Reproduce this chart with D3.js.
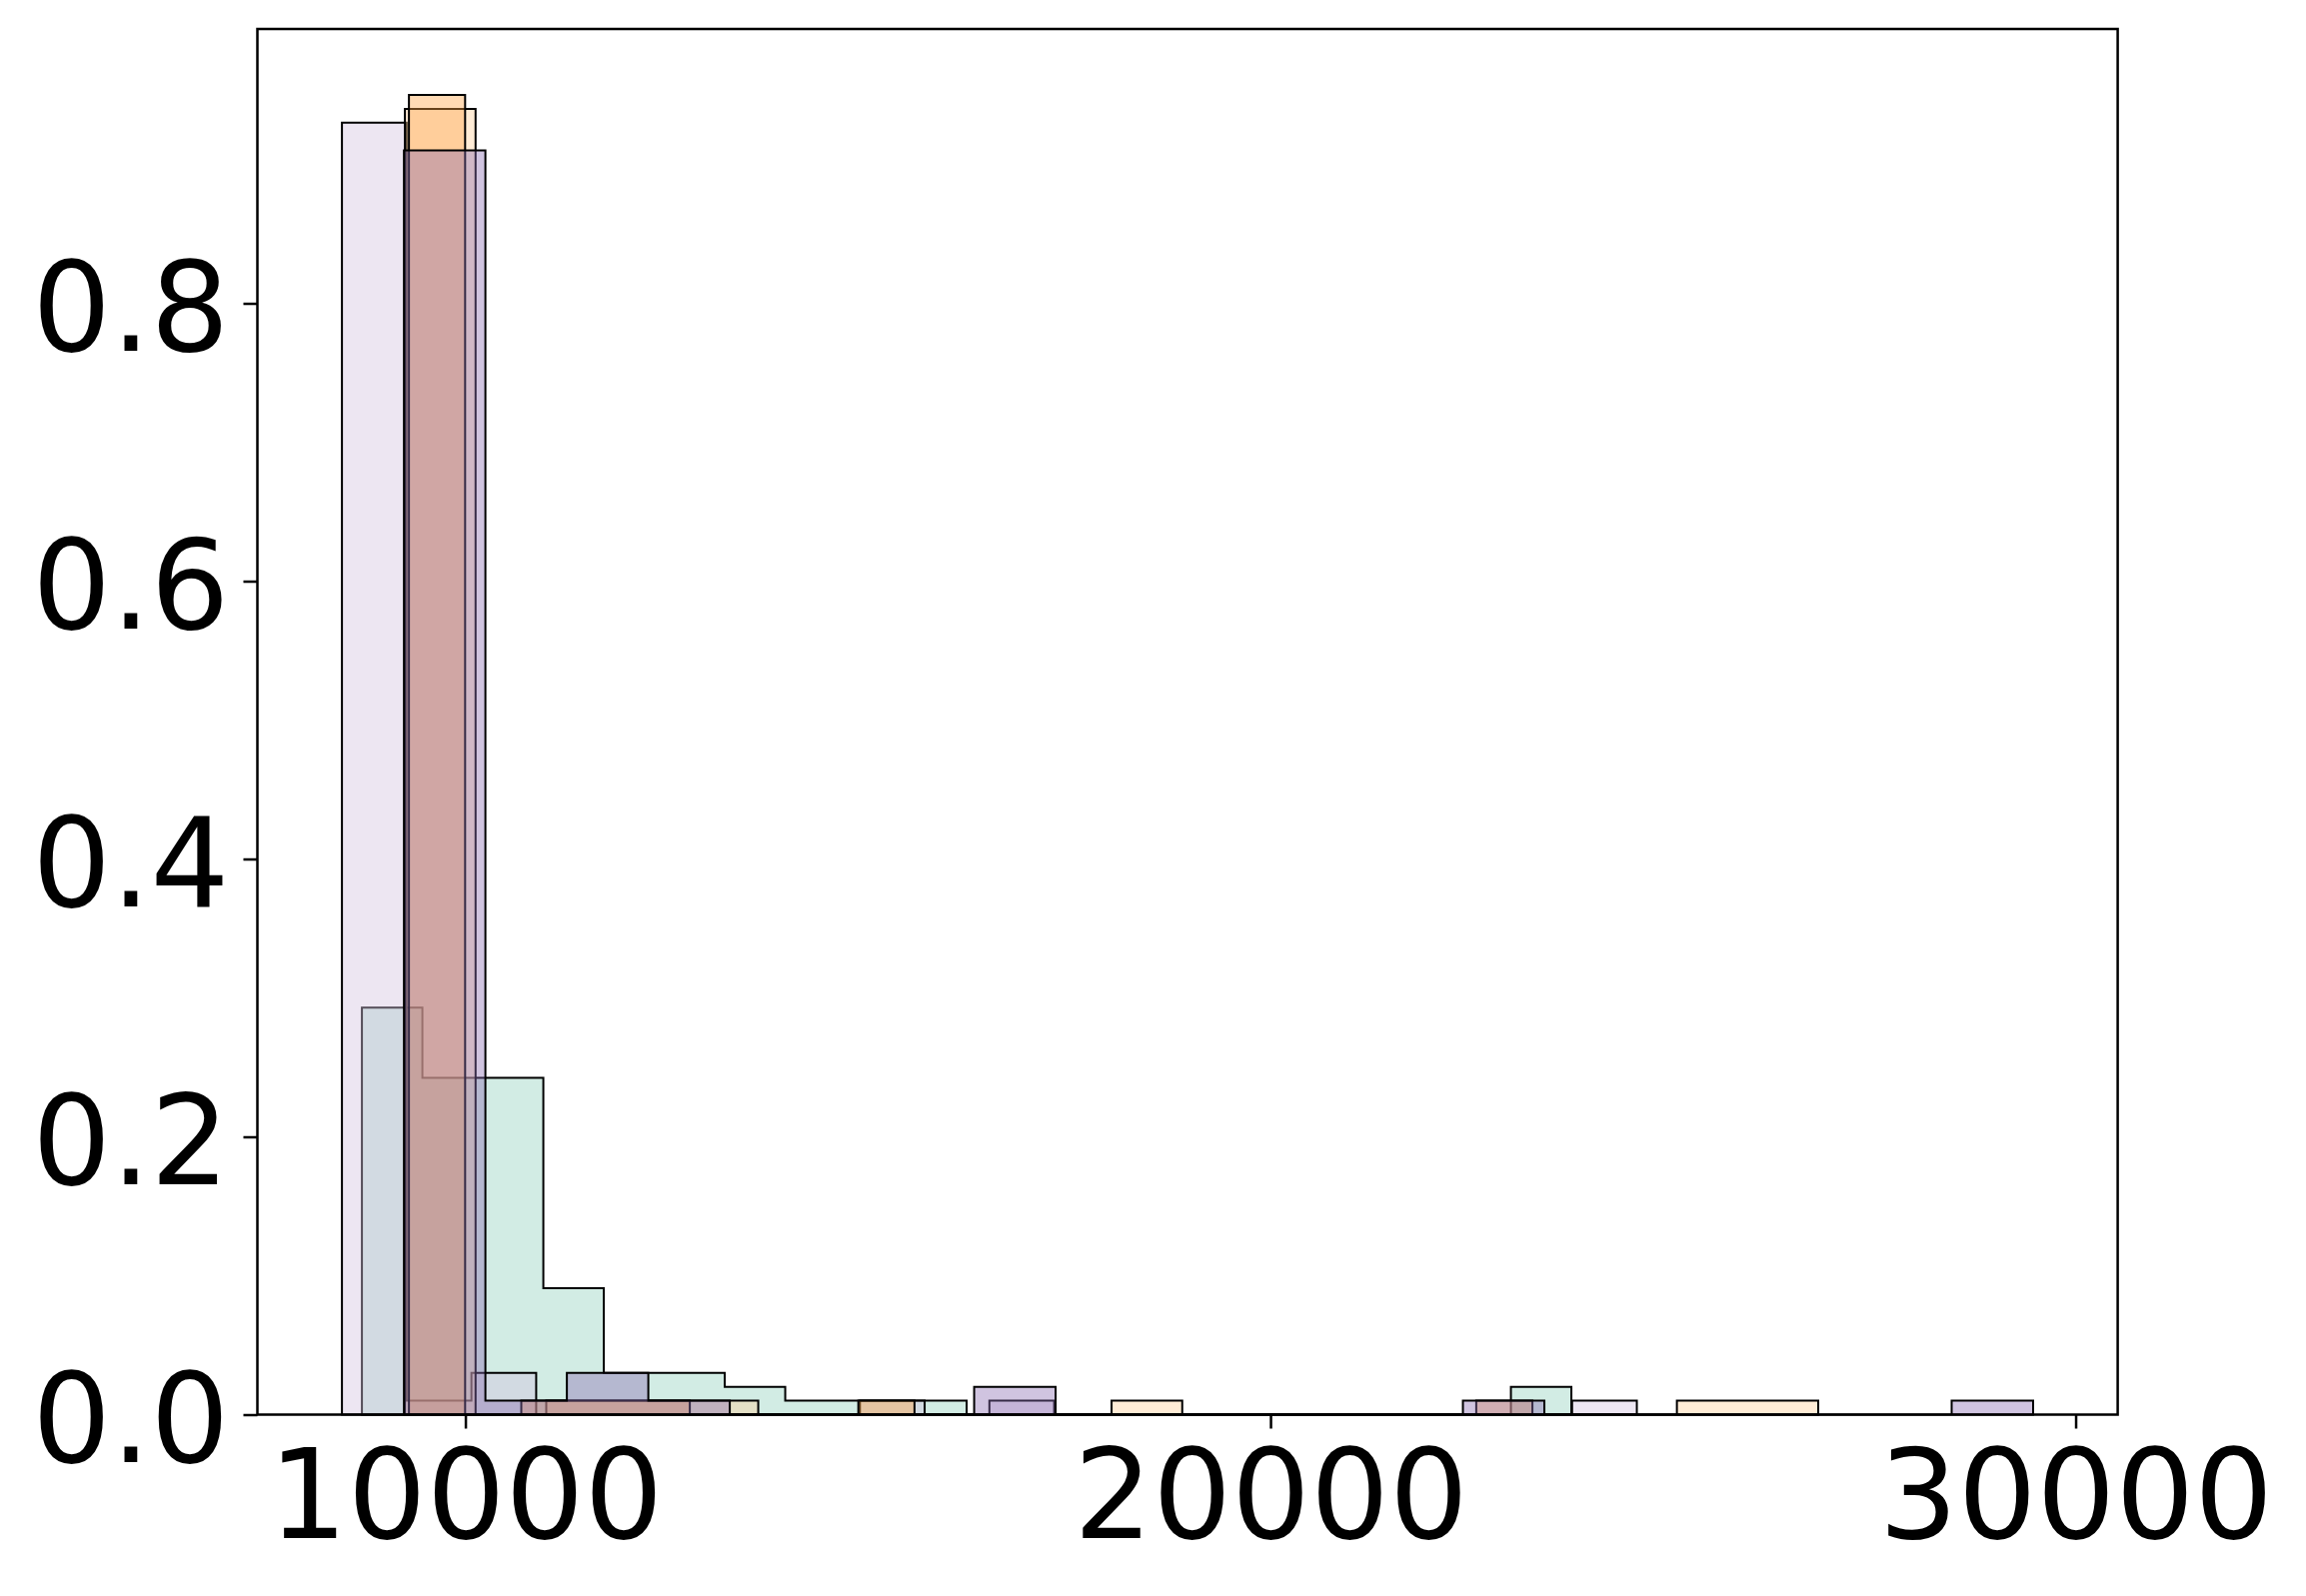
<!DOCTYPE html>
<html>
<head>
<meta charset="utf-8">
<script src="https://cdn.jsdelivr.net/npm/d3@7"></script>
<style>
html,body{margin:0;padding:0;background:#fff}
svg{display:block}
.axis text{font-family:"DejaVu Sans",sans-serif;fill:#000}
</style>
</head>
<body>
<svg id="chart"></svg>
<script>
// Overlapping step-filled histograms, 20 bins each, height = share of samples

// series in drawing order
const seriesNames=["teal","lavender","cream","orange","purple"];
// first and last bin edge of each series
const binMin=[8715,8467,9249,9299,9237];
const binMax=[23737,24550,26803,23253,29472];
// bin heights
const tealH    =[0.293,0.2425,0.2425,0.091,0.03,0.03,0.02,0.01,0.01,0.01,0,0,0,0,0,0,0,0,0,0.02];
const lavenderH=[0.93,0.01,0.03,0,0,0,0,0,0.01,0,0.01,0,0,0,0,0,0,0,0,0.01];
const creamH   =[0.94,0,0.01,0.01,0.01,0,0,0,0,0,0.01,0,0,0,0,0,0,0,0.01,0.01];
const orangeH  =[0.95,0,0.01,0.01,0.01,0,0,0,0.01,0,0,0,0,0,0,0,0,0,0,0.01];
const purpleH  =[0.91,0.01,0.03,0.01,0,0,0,0.02,0,0,0,0,0,0.01,0,0,0,0,0,0.01];
const heights=[tealH,lavenderH,creamH,orangeH,purpleH];

const xTicks=[10000,20000,30000];
const yTicks=[0,0.2,0.4,0.6,0.8];

// styles
const fillCols=["#8fd0bc","#d2c0de","#ffcf98","#ffa244","#8a6cb2"];
const fillAlpha=0.4;

const W=2307,H=1597;
const plotL=257.5,plotR=2118.6,plotT=29,plotB=1415.5;
const fontPx=124;

const svg=d3.select("#chart").attr("width",W).attr("height",H);

// matplotlib-like 5% margins
const lo=d3.min(binMin),hi=d3.max(binMax),pad=(hi-lo)*0.05;
const x=d3.scaleLinear().domain([lo-pad,hi+pad]).range([plotL,plotR]);
const yMax=d3.max(heights,h=>d3.max(h));
const y=d3.scaleLinear().domain([0,yMax*1.05]).range([plotB,plotT]);

const line=d3.line().x(d=>x(d[0])).y(d=>y(d[1]));

// step outline of one histogram, closed along the baseline
function stepPoints(i){
  const n=heights[i].length,step=(binMax[i]-binMin[i])/n;
  const pts=[[binMin[i],0]];
  heights[i].forEach((h,j)=>{
    pts.push([binMin[i]+j*step,h]);
    pts.push([binMin[i]+(j+1)*step,h]);
  });
  pts.push([binMax[i],0]);
  return pts;
}

const barG=svg.append("g").attr("class","bars");
seriesNames.forEach((name,i)=>{
  barG.append("path")
    .attr("class","series-"+name)
    .attr("d",line(stepPoints(i))+"Z")
    .attr("fill",fillCols[i])
    .attr("fill-opacity",fillAlpha)
    .attr("stroke","#000")
    .attr("stroke-width",2)
    .attr("stroke-linejoin","miter");
});

// axes
const xAxis=svg.append("g").attr("class","axis")
  .attr("transform","translate(0,"+plotB+")")
  .call(d3.axisBottom(x).tickValues(xTicks).tickSize(14).tickPadding(21).tickFormat(d3.format("d")));
const yAxis=svg.append("g").attr("class","axis")
  .attr("transform","translate("+plotL+",0)")
  .call(d3.axisLeft(y).tickValues(yTicks).tickSize(14).tickPadding(14).tickFormat(d3.format(".1f")));

[xAxis,yAxis].forEach(a=>{
  a.select(".domain").remove();
  a.selectAll(".tick line").attr("stroke","#000").attr("stroke-width",2.5);
  a.selectAll(".tick text").attr("font-size",fontPx+"px");
});
yAxis.selectAll(".tick text").attr("dy","0.38em");

// frame
svg.append("rect")
  .attr("x",plotL).attr("y",plotT)
  .attr("width",plotR-plotL).attr("height",plotB-plotT)
  .attr("fill","none").attr("stroke","#000").attr("stroke-width",2.5);
</script>
</body>
</html>
